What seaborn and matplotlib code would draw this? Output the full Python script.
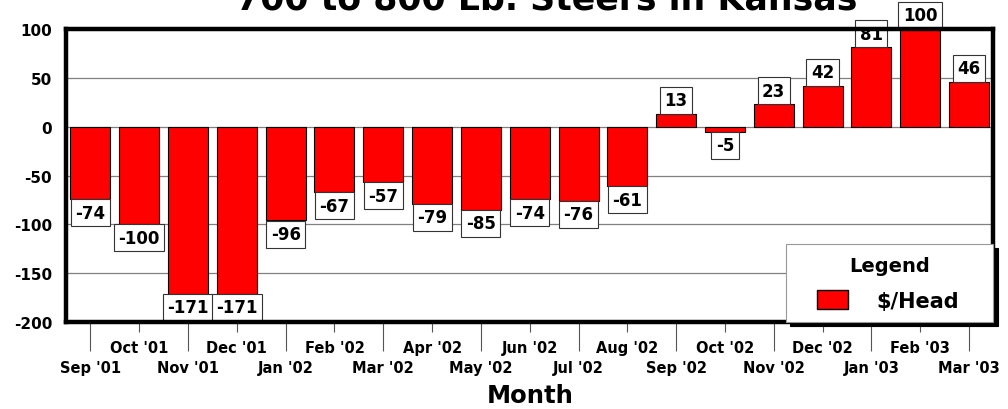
import matplotlib
matplotlib.use("Agg")
import matplotlib.pyplot as plt
import seaborn as sns
import pandas as pd
from matplotlib.patches import Patch, Rectangle
from matplotlib.legend_handler import HandlerPatch

# Data
months = ["Sep '01", "Oct '01", "Nov '01", "Dec '01", "Jan '02", "Feb '02", "Mar '02",
          "Apr '02", "May '02", "Jun '02", "Jul '02", "Aug '02", "Sep '02", "Oct '02",
          "Nov '02", "Dec '02", "Jan '03", "Feb '03", "Mar '03"]
per_head = [-74, -100, -171, -171, -96, -67, -57, -79, -85, -74, -76, -61,
            13, -5, 23, 42, 81, 100, 46]
yticks = [100, 50, 0, -50, -100, -150, -200]

df = pd.DataFrame({"Month": months, "Value": per_head})

sns.set_style("white")
plt.rcParams["font.family"] = ["DejaVu Sans"]
plt.rcParams["font.weight"] = "bold"
plt.rcParams["text.color"] = "black"
plt.rcParams["axes.labelcolor"] = "black"
plt.rcParams["xtick.labelcolor"] = "black"
plt.rcParams["ytick.labelcolor"] = "black"

fig = plt.figure(figsize=(10.08, 4.10), dpi=100)
ax = fig.add_axes([0.0655, 0.212, 0.920, 0.715])

sns.barplot(data=df, x="Month", y="Value", color="#ff0000", saturation=1,
            edgecolor="black", linewidth=0.8, width=0.82, ax=ax, zorder=3)

ax.set_xlim(-0.5, len(months) - 0.5)
ax.set_ylim(-200, 100)
ax.set_yticks(yticks)
ax.set_yticklabels([str(v) for v in yticks], fontsize=11, fontweight="bold")
ax.yaxis.grid(True, color="#808080", linewidth=0.9, zorder=0)
ax.set_axisbelow(True)
ax.tick_params(axis="y", length=8, width=0.8, color="#555555", labelcolor="black", pad=2)

# value labels in boxes, sitting on the bar ends
for i, v in enumerate(per_head):
    ax.annotate(str(v), (i, v), xytext=(0, 3.3 if v >= 0 else -3.3),
                textcoords="offset points", ha="center",
                va="bottom" if v >= 0 else "top", color="black",
                fontsize=12, fontweight="bold", zorder=5, annotation_clip=False,
                bbox=dict(boxstyle="square,pad=0.27", fc="white", ec="#333333", lw=0.8))

# alternating month labels
pos = list(range(len(months)))
ax.set_xticks(pos[0::2])
ax.set_xticklabels(months[0::2], fontsize=10.5, fontweight="bold")
ax.set_xticks(pos[1::2], minor=True)
ax.set_xticklabels(months[1::2], minor=True, fontsize=10.5, fontweight="bold")
ax.tick_params(axis="x", which="major", length=21, width=0.8, color="#555555",
               labelcolor="black", pad=6, bottom=True)
ax.tick_params(axis="x", which="minor", length=7, width=0.8, color="#555555",
               labelcolor="black", pad=6, bottom=True)

ax.set_xlabel("Month", fontsize=17.5, fontweight="bold", labelpad=6, color="black")
ax.set_ylabel("")

for s in ax.spines.values():
    s.set_visible(True)
    s.set_linewidth(3.2)
    s.set_color("black")
    s.set_zorder(6)


# legend swatch inset from the left of the handle area
def inset_patch(legend, orig_handle, xdescent, ydescent, width, height, fontsize):
    return Rectangle((-xdescent + width * 0.39, -ydescent), width * 0.61, height)


leg = ax.legend(handles=[Patch(facecolor="#ff0000", edgecolor="black", label="$/Head")],
                loc="lower right", bbox_to_anchor=(0.776, 0, 0.224, 0.25), mode="expand",
                title="Legend", fontsize=15, title_fontsize=14,
                frameon=True, fancybox=False, borderaxespad=0, borderpad=0.55,
                labelspacing=0.75, handlelength=2.43, handleheight=1.0, handletextpad=1.39,
                handler_map={Patch: HandlerPatch(patch_func=inset_patch)},
                shadow={"color": "black", "alpha": 1, "ox": 3, "oy": -3})
leg.get_frame().set_edgecolor("#999999")
leg.get_frame().set_linewidth(0.8)
leg.get_title().set_fontweight("bold")
leg.get_title().set_color("black")
for t in leg.get_texts():
    t.set_fontweight("bold")
    t.set_color("black")
leg.set_zorder(7)

fig.text(0.542, 0.976, "700 to 800 Lb. Steers in Kansas", ha="center", va="baseline",
         fontsize=25, fontweight="bold", color="black")

fig.savefig("out.png", dpi=100)
